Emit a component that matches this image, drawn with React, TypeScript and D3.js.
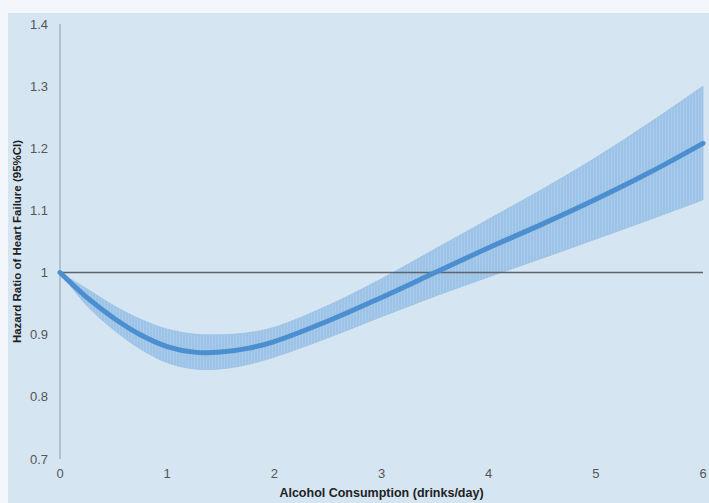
import React from 'react';
import * as d3 from 'd3';

// drinks/day
const xs = [0, 0.25, 0.5, 0.75, 1, 1.25, 1.5, 1.75, 2, 2.5, 3, 3.5, 4, 4.5, 5, 5.5, 6];
// hazard ratio estimate
const hr = [1.0, 0.96, 0.927, 0.9, 0.881, 0.872, 0.872, 0.878, 0.889, 0.922, 0.96, 1.0, 1.04, 1.078, 1.118, 1.161, 1.208];
// 95% CI
const upper = [1.0, 0.974, 0.947, 0.925, 0.909, 0.901, 0.9, 0.903, 0.912, 0.947, 0.99, 1.038, 1.086, 1.134, 1.185, 1.241, 1.3];
const lower = [1.0, 0.947, 0.908, 0.877, 0.855, 0.845, 0.845, 0.852, 0.864, 0.895, 0.929, 0.962, 0.993, 1.023, 1.054, 1.085, 1.117];

const xTicks = [0, 1, 2, 3, 4, 5, 6];
const yTicks = [0.7, 0.8, 0.9, 1, 1.1, 1.2, 1.3, 1.4];

const W = 709;
const H = 503;
const font = '"Liberation Sans", Arial, sans-serif';

export default function App() {
  const x = d3.scaleLinear().domain([0, 6]).range([60, 703]);
  const y = d3.scaleLinear().domain([0.7, 1.4]).range([459, 24]);

  const pts = xs.map((v, i) => ({ x: v, hr: hr[i], lo: lower[i], hi: upper[i] }));

  const smooth = d3.curveCatmullRom.alpha(0.5);

  const band = d3.area<any>()
    .x(d => x(d.x))
    .y0(d => y(d.lo))
    .y1(d => y(d.hi))
    .curve(smooth);

  const line = d3.line<any>()
    .x(d => x(d.x))
    .y(d => y(d.hr))
    .curve(smooth);

  return (
    <svg width={W} height={H} style={{ position: 'absolute', left: 0, top: 0 }}>
      <defs>
        <pattern id="ci-stripes" width="3" height="10" patternUnits="userSpaceOnUse">
          <rect width="3" height="10" fill="#a9cbeb" />
          <line x1="1" y1="0" x2="1" y2="10" stroke="#92bce4" strokeWidth="1" />
        </pattern>
      </defs>
      <rect width={W} height={H} fill="#f3f7fb" />
      <rect x={8} y={13} width={W - 8} height={H - 13} fill="#d5e5f2" />

      {/* y axis line */}
      <line x1={x(0)} x2={x(0)} y1={y(1.4)} y2={y(0.7)} stroke="#a9b4be" strokeWidth={1.5} />

      {/* y tick labels */}
      {yTicks.map(t => (
        <text key={t} x={48} y={y(t) + 4.5} textAnchor="end" fontFamily={font} fontSize={13} fill="#555">
          {String(t)}
        </text>
      ))}

      {/* x tick labels */}
      {xTicks.map(t => (
        <text key={t} x={x(t)} y={478} textAnchor="middle" fontFamily={font} fontSize={13} fill="#555">
          {t}
        </text>
      ))}

      {/* CI band */}
      <path d={band(pts) || ''} fill="url(#ci-stripes)" stroke="#9cc2e6" strokeWidth={0.8} />

      {/* reference line at HR = 1 */}
      <line x1={x(0)} x2={x(6)} y1={y(1)} y2={y(1)} stroke="#5f6468" strokeWidth={1.5} />

      {/* estimate */}
      <path d={line(pts) || ''} fill="none" stroke="#4b8fd1" strokeWidth={5} strokeLinecap="round" />

      <text x={(x(0) + x(6)) / 2} y={497} textAnchor="middle" fontFamily={font} fontSize={12.5} fontWeight="bold" fill="#222">
        Alcohol Consumption (drinks/day)
      </text>
      <text
        transform={`translate(21,${(y(0.7) + y(1.4)) / 2}) rotate(-90)`}
        textAnchor="middle" fontFamily={font} fontSize={11.5} fontWeight="bold" fill="#222"
      >
        Hazard Ratio of Heart Failure (95%CI)
      </text>
    </svg>
  );
}
